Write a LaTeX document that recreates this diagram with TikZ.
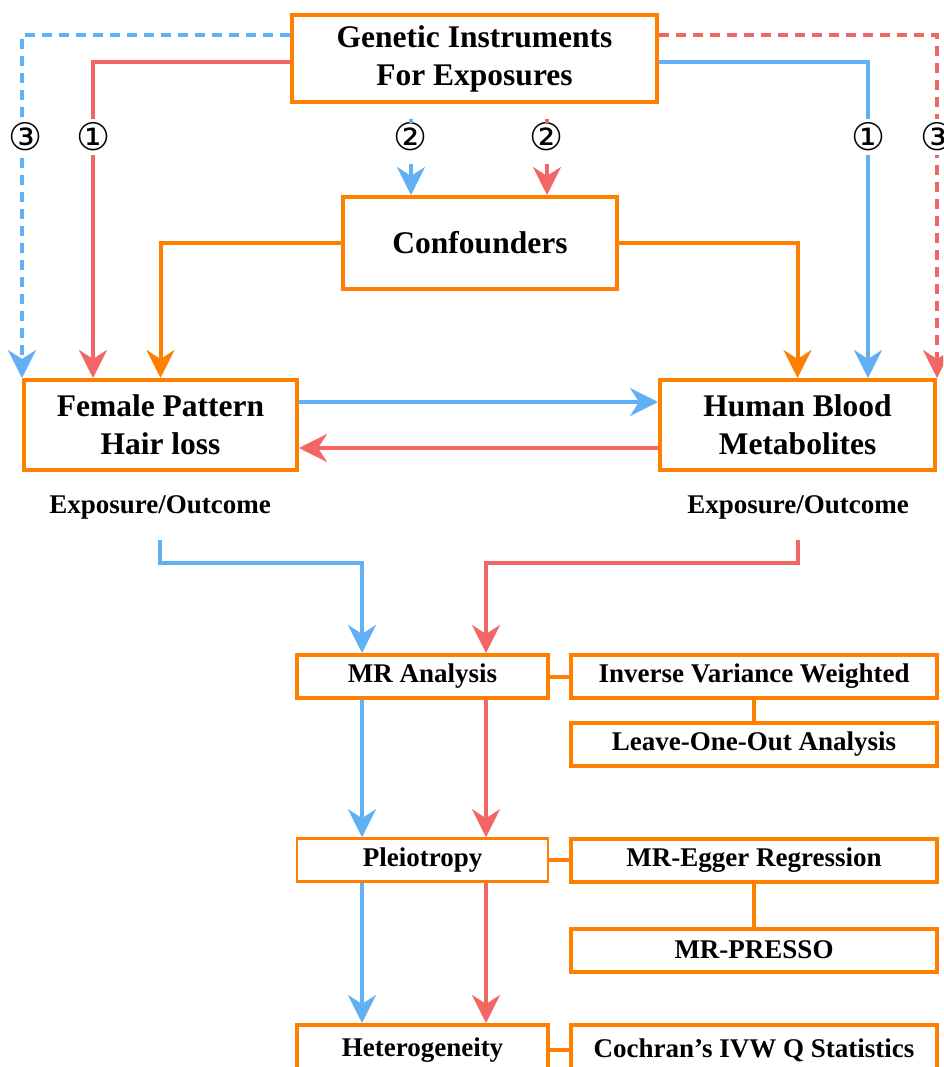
\documentclass[tikz,border=0pt]{standalone}
\usepackage{fontspec}
\setmainfont{Liberation Serif}
\newfontfamily\circfont{DejaVu Sans}
\usetikzlibrary{arrows.meta}
\definecolor{boxorange}{HTML}{FF8000}
\definecolor{pathblue}{HTML}{61AFF5}
\definecolor{pathred}{HTML}{F26666}

\begin{document}
\begin{tikzpicture}[x=1pt,y=-1pt,
  bigbox/.style={draw=boxorange,line width=4pt,align=center,font=\fontsize{31.5}{38}\selectfont\bfseries},
  smallbox/.style={draw=boxorange,line width=4pt,minimum height=43pt,font=\fontsize{27}{30}\selectfont\bfseries},
  explbl/.style={font=\fontsize{27}{30}\selectfont\bfseries},
  link/.style={line width=4pt},
  dashlink/.style={line width=3.5pt,dash pattern=on 10pt off 7pt},
  arr/.style={-{Stealth[length=28pt,width=28pt,inset=9pt]}},
  numlbl/.style={fill=white,inner xsep=1pt,inner ysep=4pt,font=\fontsize{38}{40}\circfont}
]

\fill[white] (0,0) rectangle (943,1067);
\useasboundingbox (0,0) rectangle (943,1067);
\clip (0,0) rectangle (943,1067);

\node[bigbox,minimum width=365pt,minimum height=87pt] (gi) at (474.5,58.5) {Genetic Instruments\\For Exposures};
\node[bigbox,minimum width=274pt,minimum height=92pt] (conf) at (480,243) {Confounders};
\node[bigbox,minimum width=273pt,minimum height=90pt] (fphl) at (160.5,425) {Female Pattern\\Hair loss};
\node[bigbox,minimum width=275pt,minimum height=90pt] (hbm) at (797.5,425) {Human Blood\\Metabolites};

\node[explbl] (expA) at (160,507) {Exposure/Outcome};
\node[explbl] (expB) at (798,507) {Exposure/Outcome};

\node[smallbox,minimum width=251pt] (mr) at (422.5,676.5) {MR Analysis};
\node[smallbox,minimum width=366pt] (ivw) at (754,676.5) {Inverse Variance Weighted};
\node[smallbox,minimum width=366pt] (loo) at (754,744) {Leave-One-Out Analysis};
\node[smallbox,minimum width=251pt,line width=2.5pt] (pleio) at (422.5,860) {Pleiotropy};
\node[smallbox,minimum width=366pt] (egger) at (754,860) {MR-Egger Regression};
\node[smallbox,minimum width=366pt] (presso) at (754,950) {MR-PRESSO};
\node[smallbox,minimum width=251pt,minimum height=50pt] (het) at (422.5,1050) {Heterogeneity};
\node[smallbox,minimum width=366pt,minimum height=50pt] (coch) at (754,1050) {Cochran’s IVW Q Statistics};

\draw[dashlink,pathblue,arr] (gi.west |- 0,35) -| (fphl.north west);
\draw[link,pathred,arr] (gi.west |- 0,62) -| (fphl.north -| 93,0);
\draw[link,pathblue,arr] (gi.east |- 0,62) -| (hbm.north -| 868,0);
\draw[dashlink,pathred,arr] (gi.east |- 0,35) -| (hbm.north east);

\foreach \x/\n in {26/③,94/①,411/②,547/②,869/①,938/③}
{
\node[numlbl] (c\x) at (\x,137) {\n};
}

\foreach \x/\c in {411/pathblue,547/pathred}
{
\draw[line width=3.5pt,\c,arr,dash pattern=on 0pt off 15pt on 4pt off 41pt on 60pt] (gi.south -| \x,0) -- (conf.north -| \x,0);
}

\draw[link,boxorange,arr] (conf.west) -| (fphl.north);
\draw[link,boxorange,arr] (conf.east) -| (hbm.north);

\draw[link,pathblue,arr] (fphl.east |- 0,402) -- (hbm.west |- 0,402);
\draw[link,pathred,arr] (hbm.west |- 0,448) -- (fphl.east |- 0,448);

\draw[link,pathblue,arr] (expA.south |- 0,540) -- (expA.south |- 0,563) -| (mr.north -| 362,0);
\draw[link,pathred,arr] (expB.south |- 0,540) -- (expB.south |- 0,563) -| (mr.north -| 486,0);

\foreach \x/\c in {362/pathblue,486/pathred}
{
\draw[link,\c,arr] (mr.south -| \x,0) -- (pleio.north -| \x,0);
\draw[link,\c,arr] (pleio.south -| \x,0) -- (het.north -| \x,0);
}

\draw[link,boxorange] (mr) -- (ivw);
\draw[link,boxorange] (ivw) -- (loo);
\draw[link,boxorange] (pleio) -- (egger);
\draw[link,boxorange] (egger) -- (presso);
\draw[link,boxorange] (het) -- (coch);

\end{tikzpicture}
\end{document}
